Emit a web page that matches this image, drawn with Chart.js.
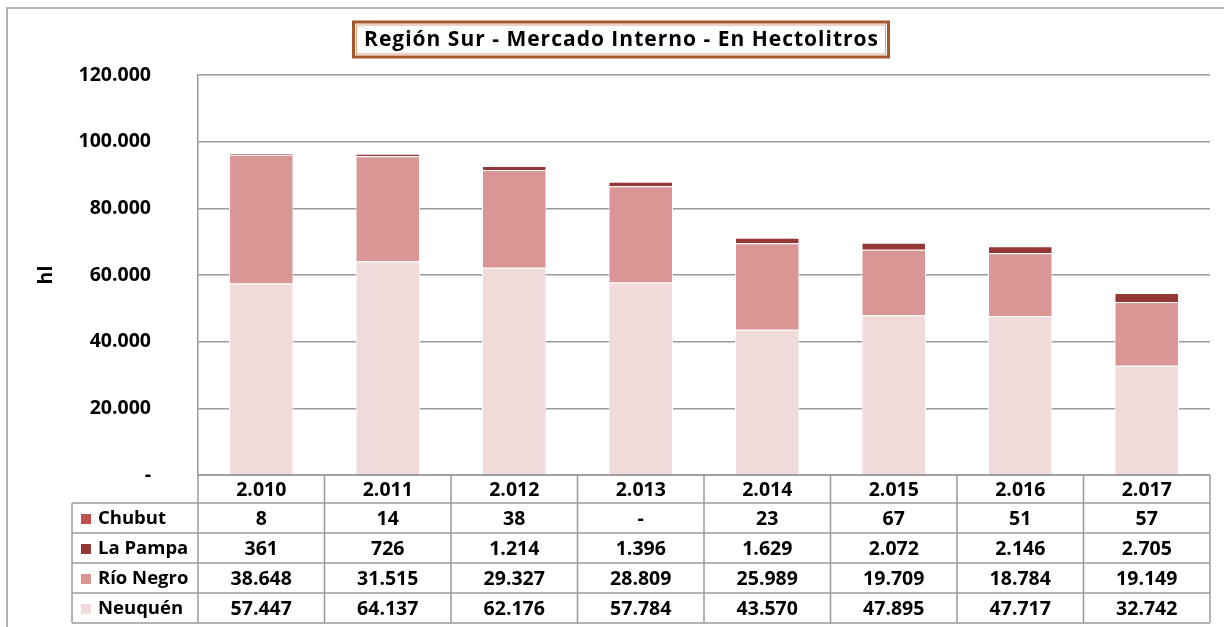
<!DOCTYPE html>
<html>
<head>
<meta charset="utf-8">
<script src="https://cdn.jsdelivr.net/npm/chart.js"></script>
<style>
  body { margin: 0; background: #fff; }
  #wrap { width: 1224px; height: 627px; }
</style>
</head>
<body>
<div id="wrap"><canvas id="myChart" width="1224" height="627"></canvas></div>
<script>
// datos
var categorias = ['2.010', '2.011', '2.012', '2.013', '2.014', '2.015', '2.016', '2.017'];
var neuquen = [57447, 64137, 62176, 57784, 43570, 47895, 47717, 32742];
var rioNegro = [38648, 31515, 29327, 28809, 25989, 19709, 18784, 19149];
var laPampa = [361, 726, 1214, 1396, 1629, 2072, 2146, 2705];
var chubut = [8, 14, 38, 0, 23, 67, 51, 57];
var ticksY = [0, 20000, 40000, 60000, 80000, 100000, 120000];

var fuente = '"Open Sans", sans-serif';
var gris = '#9a9a9a';

function formato(v) {
    if (v === 0) return '-';
    return v.toString().replace(/\B(?=(\d{3})+(?!\d))/g, '.');
}

// tabla de datos debajo del grafico + titulo con recuadro
var tablaPlugin = {
    id: 'tabla',
    beforeDraw: function (chart) {
        var ctx = chart.ctx;
        ctx.save();
        ctx.strokeStyle = gris;
        ctx.lineWidth = 1.5;
        ctx.beginPath();
        ctx.moveTo(7, 627);
        ctx.lineTo(7, 8);
        ctx.lineTo(1224, 8);
        ctx.stroke();
        ctx.restore();
    },
    afterDraw: function (chart) {
        var ctx = chart.ctx;
        var area = chart.chartArea;
        var x = chart.scales.x;
        var ancho = (area.right - area.left) / categorias.length;
        var filaAlto = 30;
        var top = area.bottom;
        var headAlto = 28;
        var izq = 72;
        var filas = [
            { nombre: 'Chubut', datos: chubut, color: '#c0504d' },
            { nombre: 'La Pampa', datos: laPampa, color: '#953735' },
            { nombre: 'Río Negro', datos: rioNegro, color: '#d99694' },
            { nombre: 'Neuquén', datos: neuquen, color: '#f2dcdb' }
        ];
        var fondo = top + headAlto + filaAlto * filas.length;

        ctx.save();
        ctx.strokeStyle = gris;
        ctx.lineWidth = 1.5;
        ctx.beginPath();
        ctx.moveTo(area.left, top);
        ctx.lineTo(area.right, top);
        for (var r = 0; r <= filas.length; r++) {
            var yy = top + headAlto + r * filaAlto;
            ctx.moveTo(izq, yy);
            ctx.lineTo(area.right, yy);
        }
        ctx.moveTo(izq, top + headAlto);
        ctx.lineTo(izq, fondo);
        for (var c = 0; c <= categorias.length; c++) {
            var xx = area.left + c * ancho;
            ctx.moveTo(xx, top);
            ctx.lineTo(xx, fondo);
        }
        ctx.stroke();

        ctx.fillStyle = '#000';
        ctx.font = 'bold 19.5px ' + fuente;
        ctx.textAlign = 'center';
        ctx.textBaseline = 'middle';
        categorias.forEach(function (cat, i) {
            ctx.fillText(cat, x.getPixelForValue(i), top + headAlto / 2 + 1);
        });
        filas.forEach(function (f, r) {
            var yc = top + headAlto + r * filaAlto + filaAlto / 2 + 1;
            ctx.fillStyle = f.color;
            ctx.fillRect(81, yc - 5, 10, 10);
            ctx.fillStyle = '#000';
            ctx.textAlign = 'left';
            ctx.font = 'bold 18.5px ' + fuente;
            ctx.fillText(f.nombre, 98, yc);
            ctx.textAlign = 'center';
            ctx.font = 'bold 19.5px ' + fuente;
            f.datos.forEach(function (v, i) {
                ctx.fillText(formato(v), x.getPixelForValue(i), yc);
            });
        });

        // titulo
        var titulo = 'Región Sur - Mercado Interno - En Hectolitros';
        ctx.font = 'bold 21px ' + fuente;
        ctx.letterSpacing = '1px';
        var w = ctx.measureText(titulo).width;
        var cx = 621;
        ctx.strokeStyle = '#a5562a';
        ctx.lineWidth = 3;
        ctx.strokeRect(cx - w / 2 - 10, 22, w + 20, 35);
        ctx.strokeStyle = '#dba57c';
        ctx.lineWidth = 1;
        ctx.strokeRect(cx - w / 2 - 7, 25, w + 14, 29);
        ctx.fillStyle = '#000';
        ctx.textAlign = 'center';
        ctx.fillText(titulo, cx + 0.5, 40);
        ctx.restore();
    }
};

var ctx = document.getElementById('myChart').getContext('2d');
var myChart = new Chart(ctx, {
    type: 'bar',
    data: {
        labels: categorias,
        datasets: [
            { label: 'Neuquén', data: neuquen, backgroundColor: '#f2dcdb' },
            { label: 'Río Negro', data: rioNegro, backgroundColor: '#d99694' },
            { label: 'La Pampa', data: laPampa, backgroundColor: '#953735' },
            { label: 'Chubut', data: chubut, backgroundColor: '#c0504d' }
        ].map(function (d) {
            d.borderColor = '#ffffff';
            d.borderWidth = 1;
            d.categoryPercentage = 1;
            d.barPercentage = 0.51;
            return d;
        })
    },
    options: {
        responsive: false,
        animation: false,
        layout: { padding: { top: 75, right: 14, bottom: 152, left: 0 } },
        plugins: {
            legend: { display: false },
            title: { display: false },
            tooltip: { enabled: false }
        },
        scales: {
            x: {
                stacked: true,
                display: false
            },
            y: {
                stacked: true,
                min: 0,
                max: 120000,
                afterFit: function (scale) { scale.width = 198; },
                afterBuildTicks: function (scale) {
                    scale.ticks = ticksY.map(function (v) { return { value: v }; });
                },
                ticks: {
                    padding: 47,
                    color: '#000',
                    font: { family: fuente, size: 19.5, weight: 'bold' },
                    callback: function (v) { return formato(v); }
                },
                grid: { color: gris, lineWidth: 1.5, drawTicks: false },
                border: { display: true, color: gris, width: 1.5 },
                title: {
                    display: true,
                    text: 'hl',
                    color: '#000',
                    font: { family: fuente, size: 19.5, weight: 'bold' },
                    padding: { top: 35 }
                }
            }
        }
    },
    plugins: [tablaPlugin]
});
</script>
</body>
</html>
